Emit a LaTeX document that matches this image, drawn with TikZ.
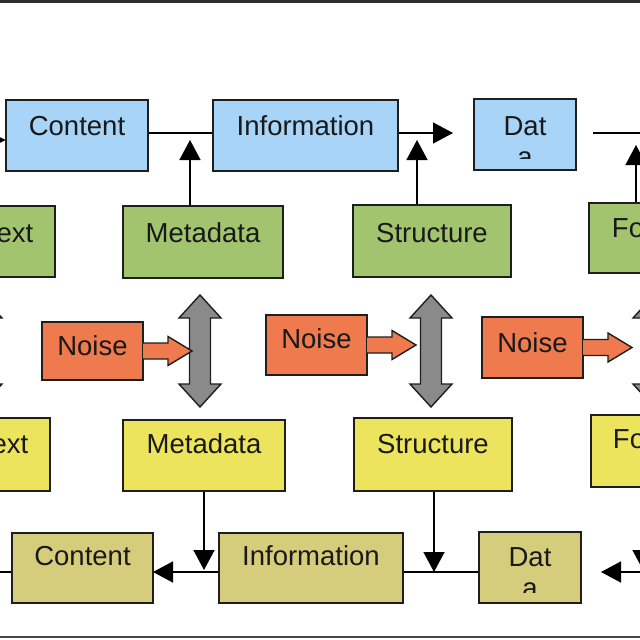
\documentclass[tikz,border=0pt]{standalone}
\usepackage{fontspec}
\setmainfont{Liberation Sans}
\usetikzlibrary{arrows.meta,backgrounds}
\definecolor{bluefill}{RGB}{168,212,248}
\definecolor{greenfill}{RGB}{162,196,110}
\definecolor{noisefill}{RGB}{239,122,78}
\definecolor{yellowfill}{RGB}{236,228,92}
\definecolor{olivefill}{RGB}{213,205,123}
\definecolor{grayfill}{RGB}{138,138,138}
\definecolor{edge}{RGB}{30,30,30}
\definecolor{textcol}{RGB}{25,25,25}
\begin{document}
\begin{tikzpicture}[x=1pt,y=-1pt,
  box/.style={draw=edge, line width=1.6pt, inner sep=0pt, outer sep=0pt, anchor=north west,
    text=textcol, font=\fontsize{27.5}{31}\selectfont},
  bluebox/.style={box, fill=bluefill},
  greenbox/.style={box, fill=greenfill},
  noisebox/.style={box, fill=noisefill},
  yellowbox/.style={box, fill=yellowfill},
  olivebox/.style={box, fill=olivefill},
  lbl/.style={inner sep=0pt, text=textcol, font=\fontsize{27.5}{31}\selectfont},
  conn/.style={draw=black, line width=1.5pt},
  tip/.style={-{Triangle[length=20pt,width=21pt]}},
  gdarrow/.pic={\draw[draw=edge, line width=1.4pt, fill=grayfill, line join=miter]
      (0,-56) -- (21,-33) -- (10.5,-33) -- (10.5,33) -- (21,33) -- (0,56)
      -- (-21,33) -- (-10.5,33) -- (-10.5,-33) -- (-21,-33) -- cycle;},
  narrow/.pic={\draw[draw=edge, line width=1.4pt, fill=noisefill, line join=miter]
      (0,-8) -- (25,-8) -- (25,-14.5) -- (49,0) -- (25,14.5) -- (25,8) -- (0,8);}
]
\useasboundingbox (0,0) rectangle (640,640);
% frame lines
\draw[draw={rgb,255:red,45;green,45;blue,45}, line width=3pt] (-5,1.5) -- (645,1.5);
\draw[draw={rgb,255:red,70;green,70;blue,70}, line width=2pt] (-5,636.5) -- (645,636.5);

% top row (blue)
\node[bluebox, minimum width=142pt, text height=35pt, text depth=36pt] (c1) at (6,100) {Content};
\node[bluebox, minimum width=185pt, text height=35pt, text depth=36pt] (i1) at (213,100) {Information};
\node[bluebox, minimum width=102pt, text height=36pt, text depth=35pt] (d1) at (474,99) {Dat};
\begin{scope}
  \clip (474,99) rectangle (576,158);
  \node[lbl, anchor=base] (a1) at (d1.center |- 0,166) {a};
\end{scope}

% second row (green)
\node[greenbox, minimum width=80pt, text height=36pt, text depth=35pt] (x1) at (-25,206) {ext};
\node[greenbox, minimum width=160pt, text height=36pt, text depth=36pt] (m1) at (123,206) {Metadata};
\node[greenbox, minimum width=158pt, text height=37pt, text depth=35pt] (s1) at (353,205) {Structure};
\node[greenbox, minimum width=78pt, text height=34pt, text depth=36pt] (f1) at (589,203) {Fo};

% noise row
\node[noisebox, minimum width=101pt, text height=33pt, text depth=25pt] (n1) at (42,322) {Noise};
\node[noisebox, minimum width=101pt, text height=33pt, text depth=27pt] (n2) at (266,315) {Noise};
\node[noisebox, minimum width=101pt, text height=35pt, text depth=26pt] (n3) at (482,317) {Noise};
\coordinate (g0) at (-19,351);
\coordinate (g1) at (200,351);
\coordinate (g2) at (431,351);
\coordinate (g3) at (654,351);
\pic at (g0) {gdarrow};
\pic at (g1) {gdarrow};
\pic at (g2) {gdarrow};
\pic at (g3) {gdarrow};
\pic at (n1.east) {narrow};
\pic at (n2.east) {narrow};
\pic at (n3.east) {narrow};

% fourth row (yellow)
\node[yellowbox, minimum width=80pt, text height=35pt, text depth=38pt] (x2) at (-30,418) {ext};
\node[yellowbox, minimum width=162pt, text height=33pt, text depth=38pt] (m2) at (123,420) {Metadata};
\node[yellowbox, minimum width=158pt, text height=35pt, text depth=38pt] (s2) at (354,418) {Structure};
\node[yellowbox, minimum width=76pt, text height=33pt, text depth=39pt] (f2) at (591,415) {Fo};

% bottom row (olive)
\node[olivebox, minimum width=141pt, text height=32pt, text depth=38pt] (c2) at (12,533) {Content};
\node[olivebox, minimum width=184pt, text height=32pt, text depth=38pt] (i2) at (219,533) {Information};
\node[olivebox, minimum width=102pt, text height=34pt, text depth=37pt] (d2) at (479,532) {Dat};
\begin{scope}
  \clip (479,532) rectangle (581,592);
  \node[lbl, anchor=base] (a2) at (d2.center |- 0,597) {a};
\end{scope}

% connector end points
\coordinate (lin) at (-20,140);
\coordinate (m1tip) at (190,140);
\coordinate (s1tip) at (417,140);
\coordinate (f1tip) at (636,145);
\coordinate (rout) at (660,133);
\coordinate (m2tip) at (204,570);
\coordinate (s2tip) at (434,572);
\coordinate (f2tip) at (643,570);
\coordinate (rin) at (660,572);
\coordinate (lout) at (-20,572);

\begin{pgfonlayer}{background}
  % top row
  \draw[conn, -{Triangle[length=6pt,width=5pt]}] (lin) -- (c1.west |- lin);
  \draw[conn, tip] (c1.east |- 0,133) -- ([xshift=19pt]i1.west |- 0,133);
  \draw[conn, tip] (i1.east |- 0,133) -- ([xshift=-21pt]d1.west |- 0,133);
  \draw[conn] ([xshift=17pt]d1.east |- 0,133) -- (rout);
  \draw[conn, tip] (m1.north -| m1tip) -- (m1tip);
  \draw[conn, tip] (s1.north -| s1tip) -- (s1tip);
  \draw[conn, tip] (f1.north -| f1tip) -- (f1tip);
  % bottom row
  \draw[conn, tip] (m2.south -| m2tip) -- (m2tip);
  \draw[conn, tip] (s2.south -| s2tip) -- (s2tip);
  \draw[conn, tip] (f2.south -| f2tip) -- (f2tip);
  \draw[conn] (d2.west |- 0,572) -- (i2.east |- 0,572);
  \draw[conn, tip] (i2.west |- 0,572) -- (c2.east |- 0,572);
  \draw[conn] (c2.west |- 0,572) -- (lout);
  \draw[conn, tip] (rin) -- ([xshift=20pt]d2.east |- 0,572);
\end{pgfonlayer}
\end{tikzpicture}
\end{document}
